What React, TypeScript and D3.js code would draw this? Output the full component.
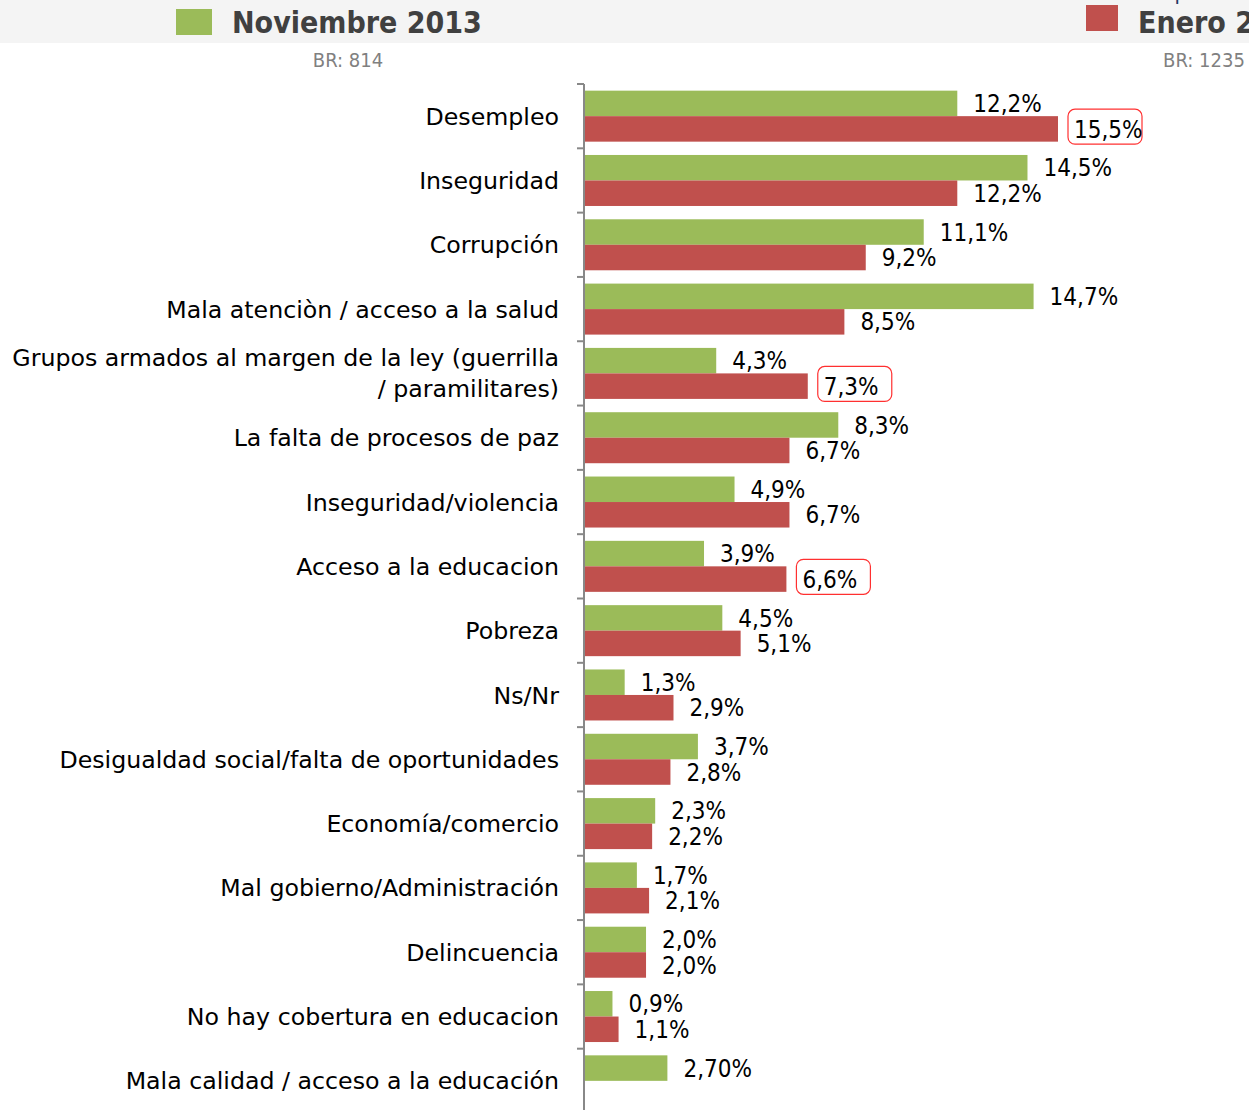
import React from "react";
import * as d3 from "d3";

const categories: string[][] = [
  ["Desempleo"],
  ["Inseguridad"],
  ["Corrupción"],
  ["Mala atenciòn / acceso a la salud"],
  ["Grupos armados al margen de la ley (guerrilla", "/ paramilitares)"],
  ["La falta de procesos de paz"],
  ["Inseguridad/violencia"],
  ["Acceso a la educacion"],
  ["Pobreza"],
  ["Ns/Nr"],
  ["Desigualdad social/falta de oportunidades"],
  ["Economía/comercio"],
  ["Mal gobierno/Administración"],
  ["Delincuencia"],
  ["No hay cobertura en educacion"],
  ["Mala calidad / acceso a la educación"],
];
const nov2013: number[] = [12.2, 14.5, 11.1, 14.7, 4.3, 8.3, 4.9, 3.9, 4.5, 1.3, 3.7, 2.3, 1.7, 2.0, 0.9, 2.7];
const nov2013Labels: string[] = ["12,2%", "14,5%", "11,1%", "14,7%", "4,3%", "8,3%", "4,9%", "3,9%", "4,5%", "1,3%", "3,7%", "2,3%", "1,7%", "2,0%", "0,9%", "2,70%"];
const ene2014: (number | null)[] = [15.5, 12.2, 9.2, 8.5, 7.3, 6.7, 6.7, 6.6, 5.1, 2.9, 2.8, 2.2, 2.1, 2.0, 1.1, null];
const ene2014Labels: string[] = ["15,5%", "12,2%", "9,2%", "8,5%", "7,3%", "6,7%", "6,7%", "6,6%", "5,1%", "2,9%", "2,8%", "2,2%", "2,1%", "2,0%", "1,1%", ""];
const highlighted: number[] = [0, 4, 7];
const seriesNames: string[] = ["Noviembre 2013", "Enero 2014"];
const baseLabels: string[] = ["BR: 814", "BR: 1235"];

const GREEN = "#9BBB59";
const RED = "#C0504D";
const FONT = "'DejaVu Sans Condensed', 'DejaVu Sans', sans-serif";
const LABEL_FONT = "'DejaVu Sans', sans-serif";

export default function App() {
  const W = 1249, H = 1110;
  const x0 = 585;
  const x = d3.scaleLinear().domain([0, 15.5]).range([x0, 1058]);
  const y = d3.scaleBand<number>().domain(d3.range(categories.length)).range([84, 1113]);
  const bw = y.bandwidth();
  const barH = 25.5;
  const pad = (bw - 2 * barH) / 2;
  const fs = 24;

  return (
    <div style={{ position: "absolute", left: 0, top: 0 }}>
      <svg width={W} height={H} style={{ display: "block", background: "#fff" }}>
        <rect x={0} y={0} width={W} height={43} fill="#f4f4f4" />
        <text x={1060} y={0} fontFamily={FONT} fontSize={22} fill="#1f3864">Resultados por</text>
        <rect x={176} y={9} width={36} height={26} fill={GREEN} />
        <text x={232} y={33} fontFamily={FONT} fontWeight="bold" fontSize={30} fill="#404040">{seriesNames[0]}</text>
        <rect x={1086} y={5} width={32} height={26} fill={RED} />
        <text x={1138} y={33} fontFamily={FONT} fontWeight="bold" fontSize={30} fill="#404040">{seriesNames[1]}</text>
        <text x={348} y={67} textAnchor="middle" fontFamily={FONT} fontSize={20} fill="#808080">{baseLabels[0]}</text>
        <text x={1204} y={67} textAnchor="middle" fontFamily={FONT} fontSize={20} fill="#808080">{baseLabels[1]}</text>

        {categories.map((lines, i) => {
          const top = y(i)!;
          const g = nov2013[i];
          const r = ene2014[i];
          const cy = top + bw / 2;
          return (
            <g key={i}>
              <rect x={x0} y={top + pad} width={x(g) - x0} height={barH} fill={GREEN} />
              <text x={x(g) + 16} y={top + pad + barH / 2} dy="0.36em" fontFamily={FONT} fontSize={fs} fill="#000">{nov2013Labels[i]}</text>
              {r != null && (
                <>
                  <rect x={x0} y={top + pad + barH} width={x(r) - x0} height={barH} fill={RED} />
                  {highlighted.includes(i) && (
                    <rect x={x(r) + 10} y={top + pad + barH - 7} width={74} height={35} rx={7} fill="none" stroke="#ff3030" strokeWidth={1.2} />
                  )}
                  <text x={x(r) + 16} y={top + pad + barH * 1.5} dy="0.36em" fontFamily={FONT} fontSize={fs} fill="#000">{ene2014Labels[i]}</text>
                </>
              )}
              {lines.map((ln, k) => (
                <text key={k} x={559} y={cy + (k - (lines.length - 1) / 2) * 31} dy="0.36em" textAnchor="end" fontFamily={LABEL_FONT} fontSize={23.7} fill="#000">{ln}</text>
              ))}
            </g>
          );
        })}

        {d3.range(categories.length).map((i) => (
          <line key={i} x1={577} x2={584} y1={y(i)!} y2={y(i)!} stroke="#888" strokeWidth={2} />
        ))}
        <line x1={584} x2={584} y1={84} y2={H} stroke="#888" strokeWidth={2} />
      </svg>
    </div>
  );
}
